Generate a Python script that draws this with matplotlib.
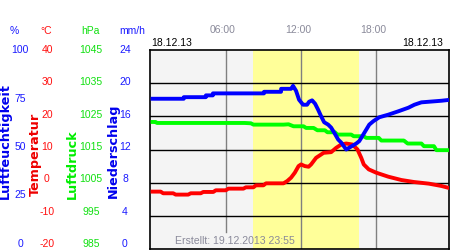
import matplotlib
matplotlib.use("Agg")
import matplotlib.pyplot as plt
from matplotlib.transforms import blended_transform_factory

# ---------------- data ----------------
hum_t = [0.0, 2.64, 2.65, 4.4, 4.41, 4.96, 4.97, 9.04, 9.05, 10.4, 10.41, 11.2, 11.36,
         11.6, 11.84, 12.16, 12.48, 12.64, 12.88, 13.12, 13.36, 13.6, 13.84, 14.16, 14.4,
         14.64, 14.96, 15.2, 15.6, 16.0, 16.4, 16.64, 16.96, 17.2, 17.44, 17.76, 18.24,
         18.96, 19.76, 20.56, 21.04, 21.6, 23.2, 23.9]
hum_v = [75.5, 75.5, 76.3, 76.3, 77.2, 77.2, 78.2, 78.2, 79, 79, 80.5, 80.5, 82,
         79.5, 75, 72.5, 72.5, 74, 74.7, 73, 70, 66.7, 63.7, 62.5, 61,
         58.5, 55, 53.5, 50, 51.5, 53, 54.2, 57.5, 60, 62.5, 64.2, 66.2,
         67.5, 69.2, 71, 72.5, 73.7, 74.5, 75]

pres_t = [0.0, 0.4, 0.5, 7.5, 8.0, 8.2, 10.6, 11.0, 11.4, 12.2, 12.4, 13.0, 13.3, 13.9,
          14.1, 14.7, 14.9, 16.0, 16.2, 17.0, 17.2, 18.2, 18.4, 20.2, 20.5, 21.6, 21.8,
          22.6, 22.8, 23.9]
pres_v = [1023.3, 1023.3, 1023.0, 1023.0, 1022.9, 1022.5, 1022.5, 1022.6, 1022.0, 1022.0,
          1021.5, 1021.5, 1020.8, 1020.8, 1020.2, 1020.2, 1019.5, 1019.5, 1019.0, 1019.0,
          1018.5, 1018.5, 1017.7, 1017.7, 1016.8, 1016.8, 1016.0, 1016.0, 1014.8, 1014.8]

temp_t = [0.0, 0.8, 1.0, 1.8, 2.0, 3.0, 3.2, 4.0, 4.2, 5.0, 5.2, 6.0, 6.2, 7.4, 7.6, 8.2,
          8.4, 9.0, 9.2, 10.6, 10.9, 11.2, 11.5, 11.8, 12.0, 12.3, 12.6, 12.8, 13.2, 13.8,
          14.4, 14.8, 15.2, 15.6, 16.1, 16.5, 16.8, 17.0, 17.4, 18.0, 18.96, 20.0, 21.0,
          22.2, 23.2, 23.9]
temp_v = [-2.7, -2.7, -3.2, -3.2, -3.6, -3.6, -3.2, -3.2, -2.8, -2.8, -2.3, -2.3, -1.8,
          -1.8, -1.4, -1.4, -0.8, -0.8, -0.2, -0.2, 0.5, 1.5, 3.0, 5.0, 5.5, 5.0, 4.8, 5.5,
          7.5, 9.0, 9.2, 10.5, 11.5, 11.8, 11.5, 10.0, 7.5, 5.5, 4.0, 3.0, 1.8, 0.8, 0.2,
          -0.3, -1.0, -1.7]

sun_rise, sun_set = 8.16, 16.6
hour_ticks = [6, 12, 18]
hour_labels = ["06:00", "12:00", "18:00"]

hum_ticks = [100, 75, 50, 25, 0]
temp_ticks = [40, 30, 20, 10, 0, -10, -20]
pres_ticks = [1045, 1035, 1025, 1015, 1005, 995, 985]
rain_ticks = [24, 20, 16, 12, 8, 4, 0]

date_label = "18.12.13"
created_label = "Erstellt: 19.12.2013 23:55"

# ---------------- figure ----------------
W, H = 450, 250
fig = plt.figure(figsize=(4.5, 2.5), dpi=100)
fig.patch.set_facecolor("white")

def fx(x):
    return x / W

def fy(y):
    return 1 - y / H

NUM = "Liberation Sans"
BLUE = "#1a1aff"
RED = "#ff1010"
GREEN = "#10e010"

# main axes (temperature scale)
ax = fig.add_axes([fx(150), fy(249), (449 - 150) / W, (249 - 50) / H])
ax.set_facecolor("#f4f4f4")
ax.set_xlim(-0.05, 23.8)
ax.set_ylim(-20, 40)
ax.axvspan(sun_rise, sun_set, color="#ffff99", zorder=0.5, lw=0)
for h in hour_ticks:
    ymin = 0.085 if h == 6 else 0
    ax.axvline(h, ymin=ymin, color="#808080", lw=1.0, zorder=1)
for t in temp_ticks[1:-1]:
    ax.axhline(t, color="black", lw=1.0, zorder=1.2)
ax.set_xticks([])
ax.set_yticks([])
for s in ax.spines.values():
    s.set_color("black")
    s.set_linewidth(1.2)
ax.plot(temp_t, temp_v, color="#ff0000", lw=2.8, zorder=3, solid_capstyle="butt")

ax_p = ax.twinx()
ax_p.set_ylim(985, 1045)
ax_p.set_yticks([])
ax_p.axis("off")
ax_p.plot(pres_t, pres_v, color="#00ff00", lw=2.8, solid_capstyle="butt")

ax_h = ax.twinx()
ax_h.set_ylim(0, 100)
ax_h.set_yticks([])
ax_h.axis("off")
ax_h.plot(hum_t, hum_v, color="#0000ff", lw=2.8, solid_capstyle="butt")

# top hour labels
tr = blended_transform_factory(ax.transData, fig.transFigure)
for h, lab in zip(hour_ticks, hour_labels):
    ax.text(h - 0.25, fy(30), lab, transform=tr, ha="center", va="center",
            fontsize=7.5, family=NUM, color="#8a8a9a")

fig.text(fx(151), fy(43), date_label, ha="left", va="center", fontsize=7.5,
         family=NUM, color="black")
fig.text(fx(443), fy(43), date_label, ha="right", va="center", fontsize=7.5,
         family=NUM, color="black")
fig.text(fx(175), fy(241.5), created_label, ha="left", va="center", fontsize=7.6,
         family=NUM, color="#8a8a9a")

# left scales
lab_ax = fig.add_axes([0, fy(244), fx(150), (244 - 50) / H])
lab_ax.set_xlim(0, 150)
lab_ax.set_ylim(0, 1)
lab_ax.axis("off")

def put(ticks, lo, hi, x, color):
    for v in ticks:
        lab_ax.text(x, (v - lo) / (hi - lo), str(v), ha="center", va="center",
                    fontsize=7.5, family=NUM, color=color)

put(hum_ticks, 0, 100, 20, BLUE)
put(temp_ticks, -20, 40, 47, RED)
put(pres_ticks, 985, 1045, 91, GREEN)
put(rain_ticks, 0, 24, 125, BLUE)

for x, txt, c in [(14, "%", BLUE), (46, "°C", RED), (90, "hPa", GREEN), (132, "mm/h", BLUE)]:
    fig.text(fx(x), fy(31), txt, ha="center", va="center", fontsize=7.5, family=NUM, color=c)

for x, yb, txt, c in [(5.5, 199, "Luftfeuchtigkeit", "#0000ee"), (35.5, 196, "Temperatur", "#ee0000"),
                      (72, 199, "Luftdruck", "#00ee00"), (113.5, 198, "Niederschlag", "#0000ee")]:
    fig.text(fx(x), fy(yb), txt, rotation=90, ha="center", va="bottom", fontsize=9.2,
             family="DejaVu Sans", fontweight="bold", color=c)

fig.savefig("out.png", dpi=100)
